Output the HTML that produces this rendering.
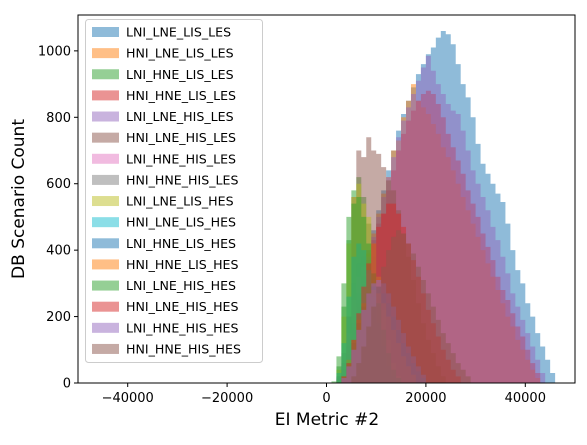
<!DOCTYPE html>
<html><head><meta charset="utf-8"><style>
body{margin:0;background:#fff;}
svg text{font-family:"DejaVu Sans","Liberation Sans",sans-serif;}
</style></head><body>
<svg id="chart" width="587" height="440" xmlns="http://www.w3.org/2000/svg">
<rect width="587" height="440" fill="#fff"/>
<g id="bars"></g>
<g id="axes"></g>
<g id="legend"></g>
<text x="327" y="425" font-size="17" text-anchor="middle">EI Metric #2</text>
<text transform="translate(24,199) rotate(-90)" font-size="17" text-anchor="middle">DB Scenario Count</text>
</svg>
<script>
const seriesNames = ["LNI_LNE_LIS_LES","HNI_LNE_LIS_LES","LNI_HNE_LIS_LES","HNI_HNE_LIS_LES","LNI_LNE_HIS_LES","HNI_LNE_HIS_LES","LNI_HNE_HIS_LES","HNI_HNE_HIS_LES","LNI_LNE_LIS_HES","HNI_LNE_LIS_HES","LNI_HNE_LIS_HES","HNI_HNE_LIS_HES","LNI_LNE_HIS_HES","HNI_LNE_HIS_HES","LNI_HNE_HIS_HES","HNI_HNE_HIS_HES"];
const colors = ["#1f77b4","#ff7f0e","#2ca02c","#d62728","#9467bd","#8c564b","#e377c2","#7f7f7f","#bcbd22","#17becf"];
const binWidth = 1000;
const s0Start = 2000, s0 = [20,60,130,200,270,340,400,460,520,580,640,700,760,810,850,890,930,960,990,1010,1040,1060,1050,1020,960,900,860,800,720,660,630,600,570,545,480,400,340,300,240,200,150,110,70,30];
const s1Start = 2000, s1 = [10,40,100,170,240,320,390,450,510,570,620,700,730,800,850,900,850,830,810,780,750,710,680,640,600,560,520,480,440,400,360,320,280,240,200,170,130,100,70,40,15];
const s2Start = 1000, s2 = [5,80,300,500,580,620,560,480,380,280,190,120,60,25];
const s3Start = 2000, s3 = [10,40,90,160,230,300,370,430,480,510,580,640,700,750,790,820,850,870,880,870,840,800,750,710,670,630,580,540,500,450,410,370,320,280,250,210,170,140,100,60,30];
const s4Start = 2000, s4 = [15,50,110,180,250,320,380,440,500,560,620,680,740,790,830,870,910,950,985,940,900,870,840,820,810,760,700,640,600,560,520,470,430,380,330,270,230,190,150,110,70,30];
const s5Start = 3000, s5 = [40,200,560,700,680,740,700,690,650,610,580,520,450,380,310,240,180,130,90,50,20];
const s6Start = 2000, s6 = [10,60,150,250,320,350,330,280,210,140,80,40,15];
const s7Start = 2000, s7 = [20,90,200,300,360,380,340,280,210,140,80,30];
const s8Start = 2000, s8 = [40,200,420,560,600,540,500,420,320,220,130,60,20];
const s9Start = 2000, s9 = [30,120,260,380,420,400,340,260,180,110,50,20];
const s10Start = 3000, s10 = [20,60,120,180,230,270,290,290,270,240,200,160,120,90,60,35,15];
const s11Start = 3000, s11 = [20,70,130,190,240,270,280,270,240,200,160,120,80,50,25];
const s12Start = 2000, s12 = [50,230,430,540,560,500,420,330,240,160,90,40,15];
const s13Start = 3000, s13 = [20,60,130,210,290,360,420,470,510,540,540,510,470,420,370,320,270,220,180,140,100,70,40,20];
const s14Start = 3000, s14 = [15,50,100,160,220,270,300,310,300,270,230,190,150,110,80,50,25];
const s15Start = 5000, s15 = [20,60,110,170,230,290,350,400,440,460,450,420,390,350,310,270,230,190,150,120,90,60,40,20];
const xTicks = [-40000,-20000,0,20000,40000];
const yTicks = [0,200,400,600,800,1000];
const allSeries = [[s0Start,s0],[s1Start,s1],[s2Start,s2],[s3Start,s3],[s4Start,s4],[s5Start,s5],[s6Start,s6],[s7Start,s7],[s8Start,s8],[s9Start,s9],[s10Start,s10],[s11Start,s11],[s12Start,s12],[s13Start,s13],[s14Start,s14],[s15Start,s15]];

const L=78,R=575,T=15,B=383;
const xMin=-50000,xMax=50000,yMax=1108;
const X=v=>L+(v-xMin)/(xMax-xMin)*(R-L);
const Y=v=>B-v/yMax*(B-T);
const NS="http://www.w3.org/2000/svg";
function mk(tag,attrs,parent){const e=document.createElementNS(NS,tag);for(const k in attrs)e.setAttribute(k,attrs[k]);parent.appendChild(e);return e;}
const bars=document.getElementById('bars');
allSeries.forEach(([start,vals],si)=>{
  const g=mk('g',{fill:colors[si%10],'fill-opacity':0.5},bars);
  
  
  let d='M'+X(start)+','+Y(0);
  vals.forEach((v,i)=>{const x0=X(start+i*binWidth),x1=X(start+(i+1)*binWidth);d+='L'+x0+','+Y(v)+'L'+x1+','+Y(v);});
  d+='L'+X(start+vals.length*binWidth)+','+Y(0)+'Z';
  const p=mk('path',{d:d},g);
  
  
});
const axes=document.getElementById('axes');
const frame=mk('rect',{x:L,y:T,width:R-L,height:B-T,fill:'none',stroke:'#000','stroke-width':1},axes);


xTicks.forEach(t=>{
  const x=X(t);
  const ln=mk('line',{x1:x,x2:x,y1:B,y2:B+4,stroke:'#000'},axes);
  
  
  const tx=mk('text',{x:x,y:B+19,'font-size':13,'text-anchor':'middle'},axes);
  tx.textContent=(t<0?'\u2212'+(-t):t);
  
  
});
yTicks.forEach(t=>{
  const y=Y(t);
  const ln=mk('line',{x1:L-4,x2:L,y1:y,y2:y,stroke:'#000'},axes);
  
  
  const tx=mk('text',{x:L-7,y:y+4.5,'font-size':13,'text-anchor':'end'},axes);
  tx.textContent=t;
  
  
});
const leg=document.getElementById('legend');
const box=mk('rect',{x:85.5,y:19.5,width:177,height:343,rx:3,fill:'#fff','fill-opacity':0.8,stroke:'#ccc'},leg);


seriesNames.forEach((n,i)=>{
  const y=27+i*21.13;
  const g=mk('g',{},leg);
  
  
  mk('rect',{x:92,y:y,width:27,height:10,fill:colors[i%10],'fill-opacity':0.5},g);
  const tx=mk('text',{x:126,y:y+9.5,'font-size':12.6},g);
  tx.textContent=n;
});
</script>
</body></html>
